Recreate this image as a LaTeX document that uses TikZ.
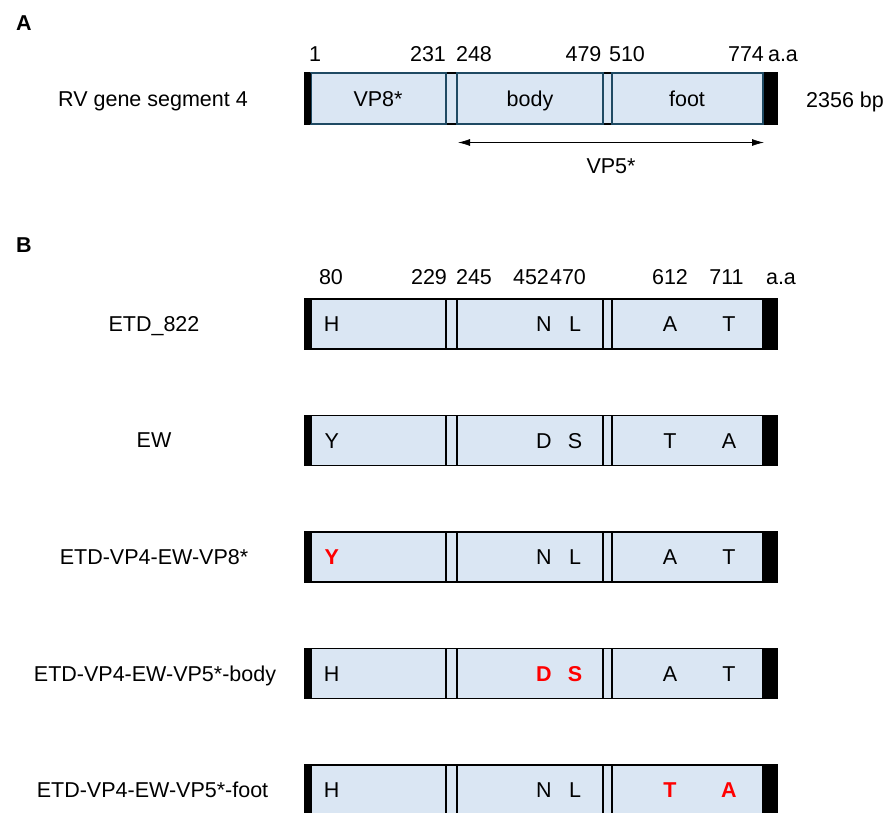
\documentclass[tikz,border=0pt]{standalone}
\usepackage{fontspec}
\setmainfont{Liberation Sans}
\usetikzlibrary{arrows.meta}
\definecolor{boxfill}{HTML}{DAE6F3}
\definecolor{boxedge}{HTML}{1F4A63}
\definecolor{mutred}{HTML}{FF0000}
\newcommand{\genebar}[4]{%
  % #1 name prefix, #2 top y, #3 height, #4 box edge colour
  \fill[boxfill] (305,#2) rectangle (777,#2+#3);
  \draw[line width=1.6pt] (305,#2) rectangle (777,#2+#3);
  \node[segbox, draw=#4, minimum width=135pt, minimum height=#3 pt] (#1a) at (311,#2) {};
  \node[segbox, draw=#4, minimum width=146pt, minimum height=#3 pt] (#1b) at (457,#2) {};
  \node[segbox, draw=#4, minimum width=151pt, minimum height=#3 pt] (#1c) at (612,#2) {};
  \fill[black] (305,#2) rectangle (311,#2+#3);
  \fill[black] (763.5,#2) rectangle (777,#2+#3);
}
\begin{document}
\begin{tikzpicture}[x=1pt,y=-1pt,
  font=\fontsize{21.5}{25}\selectfont,
  segbox/.style={rectangle, line width=1.4pt, inner sep=0pt, outer sep=0pt, anchor=north west},
  lbl/.style={inner sep=0pt, text height=15.4pt, text depth=0pt, anchor=center},
  mut/.style={lbl, font=\fontsize{21.5}{25}\selectfont\bfseries, text=mutred},
  panel/.style={lbl, font=\fontsize{21.5}{25}\selectfont\bfseries}]
\useasboundingbox (0,0) rectangle (887,812);

% ---------- Panel A ----------
\node[panel] (pA) at (24,23) {A};
\foreach \t/\x in {1/315, 231/428, 248/474, 479/583.5, 510/627, 774/746, a.a/783}
  \node[lbl] (na\x) at (\x,54) {\t};
\node[lbl] (rvlabel) at (153,99) {RV gene segment 4};
\genebar{A}{73}{51}{boxedge}
\node[lbl] (vp8) at (378,99) {VP8*};
\node[lbl] (body) at (530,99) {body};
\node[lbl] (foot) at (687,99) {foot};
\node[lbl] (bp) at (845,100) {2356 bp};
\coordinate (vp5l) at (458,142.5);
\coordinate (vp5r) at (764,142.5);
\draw[{Latex[length=12pt,width=7pt]}-{Latex[length=12pt,width=7pt]}, line width=0.8pt] (vp5l) -- (vp5r);
\node[lbl] (vp5) at (611,166) {VP5*};

% ---------- Panel B ----------
\node[panel] (pB) at (24,245) {B};
\foreach \t/\x in {80/331, 229/429, 245/474, 452/531, 470/568, 612/670, 711/726.5, a.a/781}
  \node[lbl] (nb\x) at (\x,276.7) {\t};

% row 1
\node[lbl] (l1) at (154,324) {ETD\_822};
\genebar{Ra}{299}{50}{black}
\node[lbl] (r1a) at (331.7,324) {H};
\node[lbl] (r1b) at (544,324) {N};
\node[lbl] (r1c) at (575,324) {L};
\node[lbl] (r1d) at (670,324) {A};
\node[lbl] (r1e) at (729,324) {T};

% row 2
\node[lbl] (l2) at (154,440) {EW};
\genebar{Rb}{415.5}{50}{black}
\node[lbl] (r2a) at (331.7,440.5) {Y};
\node[lbl] (r2b) at (544,440.5) {D};
\node[lbl] (r2c) at (575,440.5) {S};
\node[lbl] (r2d) at (670,440.5) {T};
\node[lbl] (r2e) at (729,440.5) {A};

% row 3
\node[lbl] (l3) at (154,557) {ETD-VP4-EW-VP8*};
\genebar{Rc}{532}{50}{black}
\node[mut] (r3a) at (331.7,557) {Y};
\node[lbl] (r3b) at (544,557) {N};
\node[lbl] (r3c) at (575,557) {L};
\node[lbl] (r3d) at (670,557) {A};
\node[lbl] (r3e) at (729,557) {T};

% row 4
\node[lbl] (l4) at (155,673.5) {ETD-VP4-EW-VP5*-body};
\genebar{Rd}{648.5}{50}{black}
\node[lbl] (r4a) at (331.7,673.5) {H};
\node[mut] (r4b) at (544,673.5) {D};
\node[mut] (r4c) at (575,673.5) {S};
\node[lbl] (r4d) at (670,673.5) {A};
\node[lbl] (r4e) at (729,673.5) {T};

% row 5
\node[lbl] (l5) at (152.5,790) {ETD-VP4-EW-VP5*-foot};
\genebar{Re}{765}{50}{black}
\node[lbl] (r5a) at (331.7,790) {H};
\node[lbl] (r5b) at (544,790) {N};
\node[lbl] (r5c) at (575,790) {L};
\node[mut] (r5d) at (670,790) {T};
\node[mut] (r5e) at (729,790) {A};
\end{tikzpicture}
\end{document}
